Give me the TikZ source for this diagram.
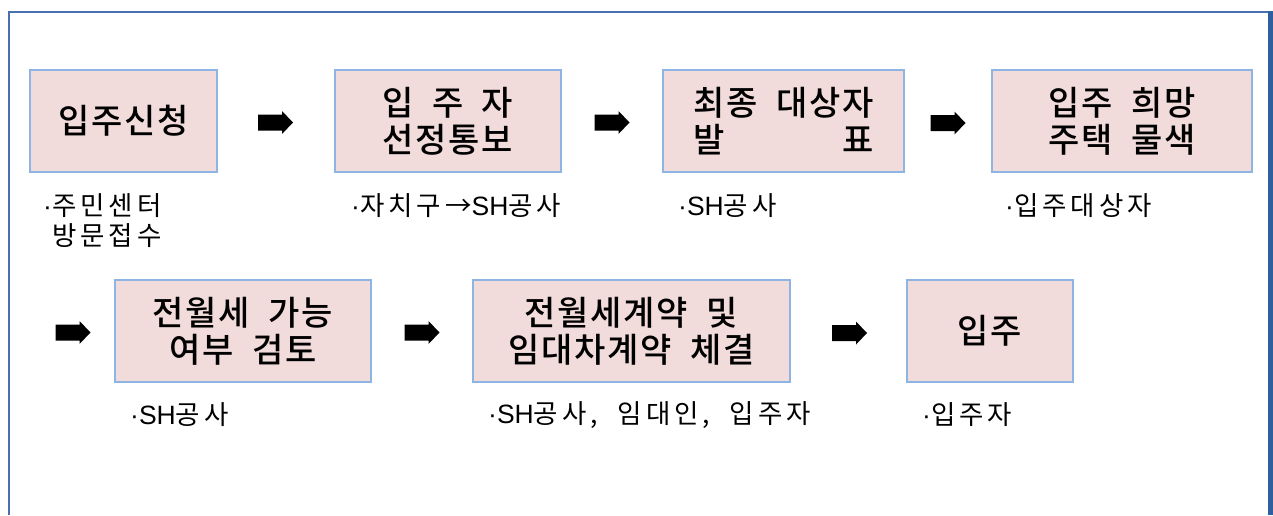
\documentclass[tikz,border=0pt]{standalone}
\usepackage{fontspec}
\usepackage{calc}
\newfontfamily\krb[LetterSpace=5,WordSpace=2]{Noto Sans CJK KR Medium}
\newfontfamily\krs[LetterSpace=15,WordSpace=2]{Noto Sans CJK KR}
\newfontfamily\latf{Liberation Sans}
\definecolor{boxfill}{RGB}{242,220,219}
\definecolor{boxline}{RGB}{141,180,226}
\definecolor{framec}{RGB}{70,112,175}
\definecolor{framedk}{RGB}{46,96,160}
\newcommand{\jl}[2]{\makebox[\widthof{#2}][s]{#1}}
\newcommand{\md}{{\latf ·}}
\newcommand{\SH}{{\latf SH}}
\begin{document}
\begin{tikzpicture}[x=1pt,y=-1pt,
  stepbox/.style={draw=boxline, fill=boxfill, line width=2pt, inner sep=0pt, align=center,
    font=\krb\fontsize{34}{37}\selectfont},
  sublabel/.style={anchor=west, inner sep=0pt, align=left, font=\krs\fontsize{26.5}{30}\selectfont},
  pics/blockarr/.style={code={\fill[black] (-17.5,-8) -- (6.5,-8) -- (6.5,-11.5) -- (17.5,0)
    -- (6.5,11.5) -- (6.5,8) -- (-17.5,8) -- cycle;}}]
\fill[white] (0,0) rectangle (1273,515);
\useasboundingbox (0,0) rectangle (1273,515);
% frame
\draw[framec, line width=2pt] (9,515) -- (9,12);
\draw[framec, line width=1.5pt] (8,12) -- (1268,12);
\fill[framedk] (1268,11.3) rectangle (1273,515);
% row 1 boxes
\node[stepbox, minimum width=187pt, minimum height=102pt] (b1) at (123.5,121) {입주신청};
\node[stepbox, minimum width=226pt, minimum height=102pt] (b2) at (448,121) {\jl{입 주 자}{선정통보}\\선정통보};
\node[stepbox, minimum width=241pt, minimum height=102pt] (b3) at (783.5,121) {최종 대상자\\\jl{발 표}{최종 대상자}};
\node[stepbox, minimum width=260pt, minimum height=102pt] (b4) at (1122,121) {입주 희망\\주택 물색};
% row 2 boxes
\node[stepbox, minimum width=256pt, minimum height=102pt] (b5) at (243,331) {전월세 가능\\여부 검토};
\node[stepbox, minimum width=317pt, minimum height=102pt] (b6) at (631.5,331) {전월세계약 및\\임대차계약 체결};
\node[stepbox, minimum width=166pt, minimum height=102pt] (b7) at (990,331) {입주};
% arrows
\pic (a1) at (275.5,122.5) {blockarr};
\pic (a2) at (612,122.5) {blockarr};
\pic (a3) at (948,123) {blockarr};
\pic (a4) at (73,332.5) {blockarr};
\pic (a5) at (422,332.5) {blockarr};
\pic (a6) at (849.5,333) {blockarr};
% sub labels
\node[sublabel] (s1) at (43,221) {\md 주민센터\\\phantom{\md}방문접수};
\node[sublabel] (s2) at (351,206) {\md 자치구→\SH 공사};
\node[sublabel] (s3) at (678,206) {\md\SH 공사};
\node[sublabel] (s4) at (1005,206) {\md 입주대상자};
\node[sublabel] (s5) at (130,415) {\md\SH 공사};
\node[sublabel] (s6) at (488,415) {\md\SH 공사, 임대인, 입주자};
\node[sublabel] (s7) at (922,415) {\md 입주자};
\end{tikzpicture}
\end{document}
